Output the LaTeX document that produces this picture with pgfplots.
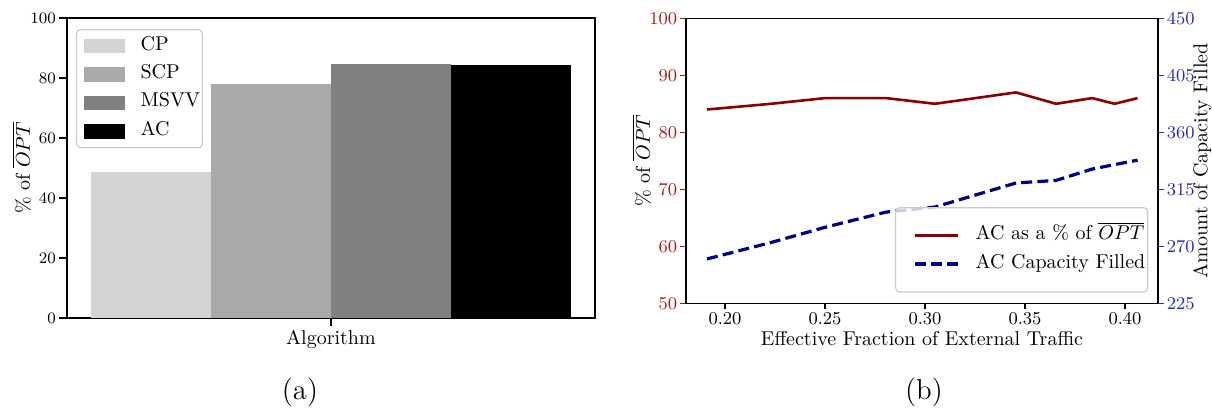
\documentclass[border=0pt]{standalone}
\usepackage{pgfplots}
\pgfplotsset{compat=1.18}
\definecolor{cpc}{HTML}{D3D3D3}
\definecolor{scpc}{HTML}{A9A9A9}
\definecolor{msvvc}{HTML}{808080}
\definecolor{acred}{HTML}{8B0000}
\definecolor{acblue}{HTML}{00008B}
\definecolor{redtick}{RGB}{165,30,30}
\definecolor{bluetick}{RGB}{40,40,185}
\definecolor{legframe}{RGB}{204,204,204}

\pgfplotstableread{
x y
-0.3 48.6
}\cptab
\pgfplotstableread{
x y
-0.1 78.0
}\scptab
\pgfplotstableread{
x y
0.1 84.7
}\msvvtab
\pgfplotstableread{
x y
0.3 84.3
}\actab
\pgfplotstableread{
x pct cap
0.191  84 260
0.223  85 273
0.250  86 285
0.2805 86 297
0.305  85 301
0.3455 87 320
0.3655 85 322
0.3836 86 331
0.3948 85 334.5
0.4063 86 338
}\rtab

\pgfplotsset{
  common/.style={
    scale only axis,
    axis line style={line width=0.8pt, black},
    tick align=outside,
    tick style={line width=0.8pt, black},
    label style={font=\fontsize{10}{12}\selectfont},
  },
  legcommon/.style={
    legend style={
      draw=legframe, line width=0.6pt, rounded corners=2pt,
      fill=white, fill opacity=0.8, text opacity=1,
      inner xsep=1.2pt,
      font=\fontsize{10}{12}\selectfont,
      nodes={inner sep=0pt, text height=7pt, text depth=3pt},
      row sep=4.2pt,
      /tikz/every odd column/.append style={column sep=8pt},
      legend cell align=left,
    },
  },
}

\begin{document}
\begin{tikzpicture}
\useasboundingbox (0pt,0pt) rectangle (606pt,204pt);

% ---------------- (a) ----------------
\begin{axis}[common, legcommon,
  at={(33.5pt,45pt)}, anchor=south west,
  width=264pt, height=150pt,
  xmin=-0.44, xmax=0.44, ymin=0, ymax=100,
  xtick={0}, xticklabels={},
  ytick={0,20,40,60,80,100},
  tick pos=left,
  major tick length=4pt,
  yticklabel style={font=\fontsize{8}{9}\selectfont, inner sep=1.3pt},
  xlabel={Algorithm},
  ylabel={\% of $\overline{OPT}$},
  xlabel style={at={(axis description cs:0.5,-0.088)}, anchor=base},
  ylabel style={at={(axis description cs:-0.086,0.5)}, anchor=center},
  legend style={at={(axis description cs:0.017,0.963)}, anchor=north west, inner ysep=3.2pt},
  legend image code/.code={
    \path[draw=none, fill=none] (0pt,0pt) -- (2.3pt,0pt);
    \fill[#1, draw=none, sharp corners, fill opacity=1] (2.3pt,-3.65pt) rectangle (22.8pt,3.65pt);
  },
]
\addplot[ybar, bar width=0.2, bar shift=0pt, fill=cpc, draw=none] table[x=x,y=y] {\cptab};
\addlegendentry{CP}
\addplot[ybar, bar width=0.2, bar shift=0pt, fill=scpc, draw=none] table[x=x,y=y] {\scptab};
\addlegendentry{SCP}
\addplot[ybar, bar width=0.2, bar shift=0pt, fill=msvvc, draw=none] table[x=x,y=y] {\msvvtab};
\addlegendentry{MSVV}
\addplot[ybar, bar width=0.2, bar shift=0pt, fill=black, draw=none] table[x=x,y=y] {\actab};
\addlegendentry{AC}
\end{axis}

% ---------------- (b) left axis ----------------
\begin{axis}[common,
  at={(343pt,52.35pt)}, anchor=south west,
  width=236pt, height=142.5pt,
  xmin=0.1805, xmax=0.4165, ymin=50, ymax=100,
  xtick={0.20,0.25,0.30,0.35,0.40},
  ytick={50,60,70,80,90,100},
  tick pos=left,
  major tick length=3pt,
  xticklabel style={font=\fontsize{8.8}{10}\selectfont, inner sep=1.5pt,
    /pgf/number format/.cd, fixed, fixed zerofill, precision=2},
  yticklabel style={font=\fontsize{8.8}{10}\selectfont, inner sep=1.2pt, text=redtick},
  ytick style={line width=0.8pt, redtick},
  xlabel={Effective Fraction of External Traffic},
  ylabel={\% of $\overline{OPT}$},
  xlabel style={at={(axis description cs:0.5,-0.148)}, anchor=base},
  ylabel style={at={(axis description cs:-0.0939,0.5)}, anchor=center},
]
\addplot[acred, line width=1.3pt, mark=none] table[x=x,y=pct] {\rtab};
\end{axis}

% ---------------- (b) right axis ----------------
\begin{axis}[common, legcommon,
  at={(343pt,52.35pt)}, anchor=south west,
  width=236pt, height=142.5pt,
  xmin=0.1805, xmax=0.4165, ymin=225, ymax=450,
  hide x axis,
  ytick={225,270,315,360,405,450},
  ytick pos=right, yticklabel pos=right,
  major tick length=3pt,
  yticklabel style={font=\fontsize{8.8}{10}\selectfont, inner sep=1.2pt, text=bluetick},
  ytick style={line width=0.8pt, bluetick},
  ylabel={Amount of Capacity Filled},
  every axis y label/.style={at={(axis description cs:1.094,0.5)}, anchor=center, rotate=90},
  legend style={at={(axis description cs:0.9794,0.0372)}, anchor=south east, inner ysep=9pt},
  legend image code/.code={
    \path[draw=none] (0pt,0pt) -- (8.3pt,0pt);
    \draw[#1, opacity=1] (8.3pt,0pt) -- (30pt,0pt);
  },
]
\addlegendimage{acred, line width=1.3pt}
\addlegendentry{AC as a \% of $\overline{OPT}$}
\addplot[acblue, line width=1.6pt, dash pattern=on 5.5pt off 2.6pt, mark=none] table[x=x,y=cap] {\rtab};
\addlegendentry{AC Capacity Filled}
\end{axis}

\node[font=\fontsize{14.4}{17}\selectfont, inner sep=0pt] at (150pt,7.6pt) {(a)};
\node[font=\fontsize{14.4}{17}\selectfont, inner sep=0pt] at (462pt,7.6pt) {(b)};
\end{tikzpicture}
\end{document}
